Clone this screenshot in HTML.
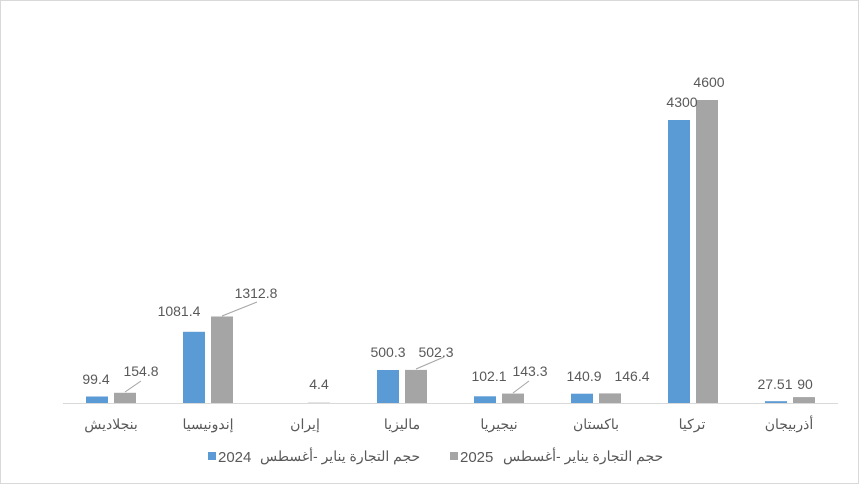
<!DOCTYPE html><html><head><meta charset="utf-8"><style>body{margin:0;background:#fff}svg{display:block}</style></head><body>
<svg width="860" height="485" xmlns="http://www.w3.org/2000/svg" font-family="Liberation Sans, Noto Sans CJK SC, sans-serif">
<rect x="0.5" y="0.5" width="858" height="483" fill="#fff" stroke="#d9d9d9"/>
<line x1="63" y1="403.5" x2="838" y2="403.5" stroke="#d9d9d9"/>
<g fill="#5b9bd5">
<rect x="86" y="396.5" width="22" height="6.5"/>
<rect x="183" y="331.8" width="22" height="71.2"/>
<rect x="377" y="370" width="22" height="33"/>
<rect x="474" y="396.3" width="22" height="6.7"/>
<rect x="571" y="393.7" width="22" height="9.3"/>
<rect x="668" y="120" width="22" height="283"/>
<rect x="765" y="401.2" width="22" height="1.8"/>
</g>
<g fill="#a5a5a5">
<rect x="114" y="392.8" width="22" height="10.2"/>
<rect x="211" y="316.5" width="22" height="86.5"/>
<rect x="308" y="402.7" width="22" height="0.3"/>
<rect x="405" y="369.9" width="22" height="33.1"/>
<rect x="502" y="393.6" width="22" height="9.4"/>
<rect x="599" y="393.4" width="22" height="9.6"/>
<rect x="696" y="100" width="22" height="303"/>
<rect x="793" y="397.1" width="22" height="5.9"/>
</g>
<g stroke="#a5a5a5" stroke-width="1" fill="none">
<line x1="125" y1="392" x2="141" y2="381"/>
<line x1="222" y1="316" x2="257" y2="302"/>
<line x1="416" y1="369" x2="444" y2="357"/>
<line x1="513" y1="393" x2="529" y2="381"/>
</g>
<g fill="#595959" font-size="14" text-anchor="middle">
<text x="96" y="384">99.4</text>
<text x="141" y="376">154.8</text>
<text x="179" y="316">1081.4</text>
<text x="256" y="298">1312.8</text>
<text x="319" y="389">4.4</text>
<text x="388" y="357">500.3</text>
<text x="436" y="357">502.3</text>
<text x="489" y="381">102.1</text>
<text x="530" y="376">143.3</text>
<text x="584" y="381">140.9</text>
<text x="632" y="381">146.4</text>
<text x="682" y="107">4300</text>
<text x="709" y="87">4600</text>
<text x="775" y="389">27.51</text>
<text x="805" y="389">90</text>
</g>
<g fill="#595959" font-size="14" text-anchor="middle">
<text x="111" y="429">بنجلاديش</text>
<text x="208" y="429">إندونيسيا</text>
<text x="305" y="429">إيران</text>
<text x="402" y="429">ماليزيا</text>
<text x="499" y="429">نيجيريا</text>
<text x="596" y="429">باكستان</text>
<text x="692" y="429">تركيا</text>
<text x="789" y="429">أذربيجان</text>
</g>
<rect x="208" y="452" width="8" height="8" fill="#5b9bd5"/>
<text x="218" y="462" font-size="15" fill="#595959">2024</text>
<text x="260" y="461" font-size="14" fill="#595959">حجم التجارة  يناير -أغسطس</text>
<rect x="450" y="452" width="8" height="8" fill="#a5a5a5"/>
<text x="460" y="462" font-size="15" fill="#595959">2025</text>
<text x="503" y="461" font-size="14" fill="#595959">حجم التجارة  يناير -أغسطس</text>
</svg>
</body></html>
